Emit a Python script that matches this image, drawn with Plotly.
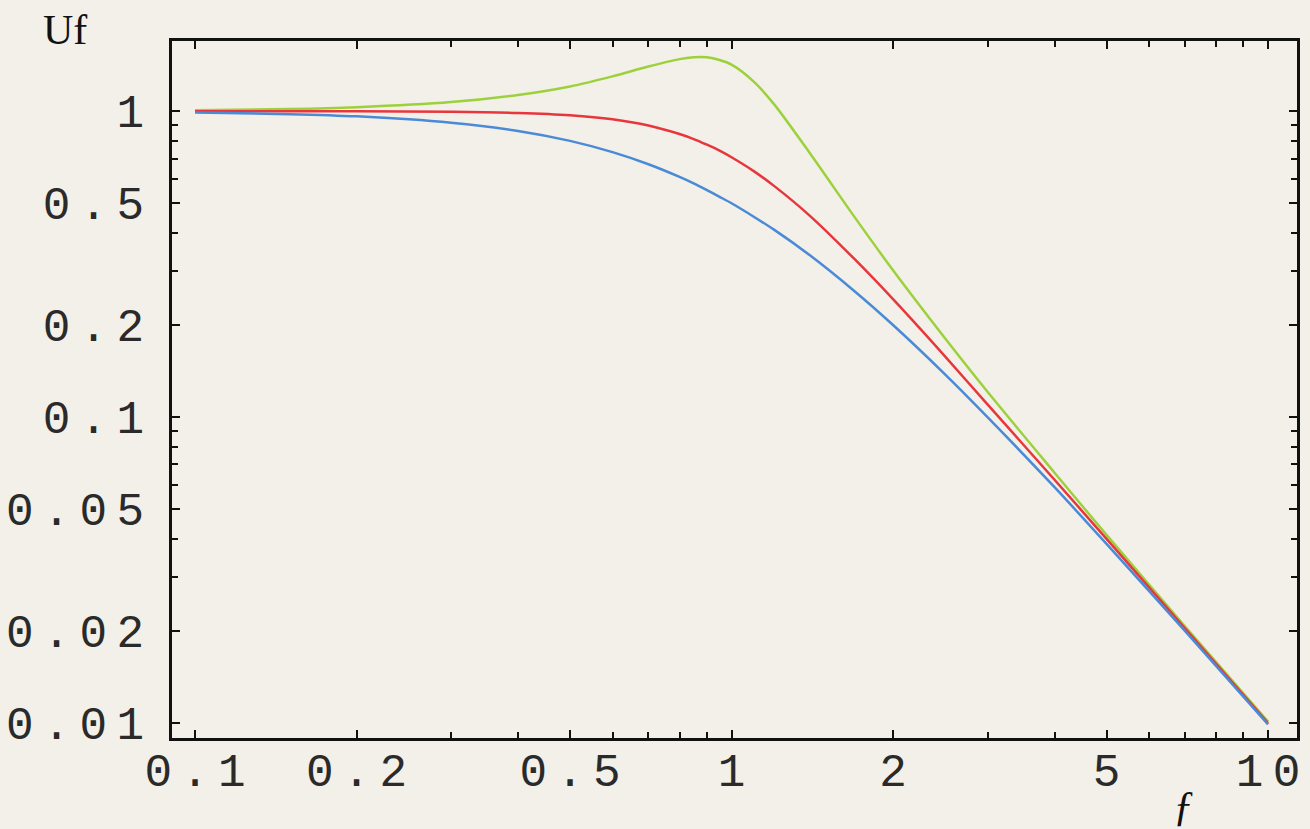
import plotly.graph_objects as go

# frequency values (x)
freq = [0.1, 0.15, 0.2, 0.3, 0.4, 0.5, 0.6, 0.7, 0.8, 0.85, 0.9, 0.95, 1.0, 1.1, 1.2, 1.4, 1.7, 2.0, 2.5, 3.0, 4.0, 5.0, 7.0, 10.0]

# Uf curves
uf_green = [1.008, 1.017, 1.031, 1.071, 1.13, 1.205, 1.30, 1.40, 1.48, 1.50, 1.50, 1.47, 1.42, 1.25, 1.055, 0.729, 0.448, 0.302, 0.181, 0.121, 0.0658, 0.0412, 0.0207, 0.0101]
uf_red = [1.0, 1.0, 0.999, 0.996, 0.987, 0.970, 0.941, 0.898, 0.842, 0.811, 0.777, 0.743, 0.707, 0.637, 0.57, 0.455, 0.327, 0.243, 0.158, 0.11, 0.0624, 0.040, 0.0204, 0.010]
uf_blue = [0.99, 0.978, 0.962, 0.917, 0.862, 0.80, 0.735, 0.671, 0.61, 0.581, 0.552, 0.525, 0.50, 0.452, 0.41, 0.338, 0.257, 0.20, 0.138, 0.10, 0.059, 0.0385, 0.020, 0.0099]

x_tickvals = [0.1, 0.2, 0.5, 1, 2, 5, 10]
x_ticktext = ["0.1", "0.2", "0.5", "1", "2", "5", "10"]
y_tickvals = [1, 0.5, 0.2, 0.1, 0.05, 0.02, 0.01]
y_ticktext = ["1", "0.5", "0.2", "0.1", "0.05", "0.02", "0.01"]

x_minor = [0.3, 0.4, 0.6, 0.7, 0.8, 0.9, 3, 4, 6, 7, 8, 9]
y_minor = [0.9, 0.8, 0.7, 0.6, 0.4, 0.3, 0.09, 0.08, 0.07, 0.06, 0.04, 0.03, 0.009]

SP = "\u2009"
def spaced(s):
    return SP.join(list(s))

bg = "#f2f0e9"

fig = go.Figure()
fig.add_trace(go.Scatter(x=freq, y=uf_green, mode="lines", line=dict(color="#9dd13c", width=2.5, shape="spline", smoothing=0.8)))
fig.add_trace(go.Scatter(x=freq, y=uf_red, mode="lines", line=dict(color="#e8363d", width=2.5, shape="spline", smoothing=0.8)))
fig.add_trace(go.Scatter(x=freq, y=uf_blue, mode="lines", line=dict(color="#4a8ad6", width=2.5, shape="spline", smoothing=0.8)))

tickfont = dict(family="Liberation Mono, Courier New, monospace", size=46, color="#2a2a2a")

fig.update_xaxes(
    type="log", range=[-1.0429, 1.054], automargin=False,
    tickmode="array", tickvals=x_tickvals, ticktext=[spaced(t) for t in x_ticktext],
    ticks="inside", ticklen=8, tickwidth=2, tickcolor="#111111",
    minor=dict(tickvals=x_minor, ticks="inside", ticklen=6, tickwidth=2, tickcolor="#111111"),
    showline=True, linecolor="#111111", linewidth=2.5, mirror="allticks",
    showgrid=False, zeroline=False, tickfont=tickfont, ticklabelstandoff=-10,
)
fig.update_yaxes(
    type="log", range=[-2.049, 0.2295], automargin=False,
    tickmode="array", tickvals=y_tickvals, ticktext=[spaced(t) for t in y_ticktext],
    ticks="inside", ticklen=8, tickwidth=2, tickcolor="#111111",
    minor=dict(tickvals=y_minor, ticks="inside", ticklen=6, tickwidth=2, tickcolor="#111111"),
    showline=True, linecolor="#111111", linewidth=2.5, mirror="allticks",
    showgrid=False, zeroline=False, tickfont=tickfont, ticklabelstandoff=16,
)

fig.add_annotation(text="Uf", xref="paper", yref="paper", x=-0.095, y=1.016, xanchor="center", yanchor="middle",
                   showarrow=False, font=dict(family="Liberation Serif, Times New Roman, serif", size=42, color="#111111"))
fig.add_annotation(text="<i>ƒ</i>", xref="paper", yref="paper", x=0.899, y=-0.098, xanchor="center", yanchor="middle",
                   showarrow=False, font=dict(family="Liberation Serif, Times New Roman, serif", size=42, color="#111111"))

fig.update_layout(
    width=1310, height=829,
    margin=dict(l=172, r=13, t=41, b=91),
    paper_bgcolor=bg, plot_bgcolor=bg,
    showlegend=False,
)

fig.write_html(
    "out.html",
    config={"displayModeBar": False},
    post_script=(
        "document.body.style.margin='0';"
        "document.body.style.background='%s';"
        "document.documentElement.style.background='%s';" % (bg, bg)
    ),
)
